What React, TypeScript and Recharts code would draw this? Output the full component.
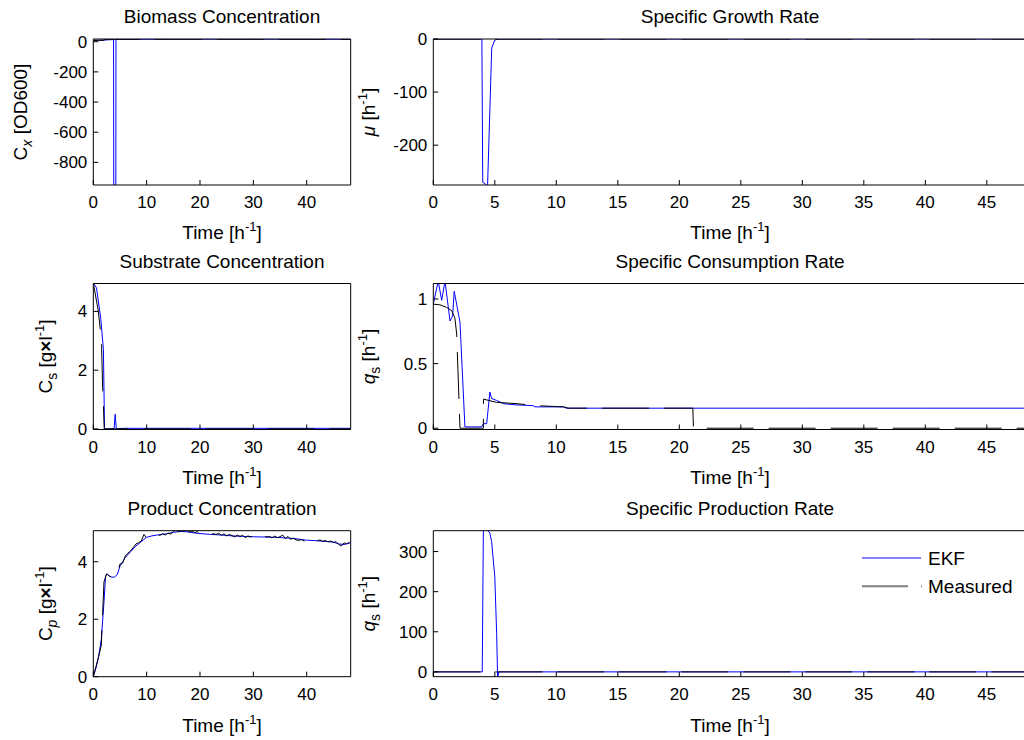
import React from 'react'
import { LineChart, Line, XAxis, YAxis, Legend } from 'recharts'

const FONT = '"Liberation Sans", Arial, Helvetica, sans-serif'
const EKF_COLOR = '#0000ff'
const MEAS_COLOR = '#000000'
const MEAS_DASH = '47 15'

const X_DOMAIN: [number, number] = [0, 48.25]
const X_TICKS_LEFT = [0, 10, 20, 30, 40]
const X_TICKS_RIGHT = [0, 5, 10, 15, 20, 25, 30, 35, 40, 45]

// Biomass concentration
const cxEkfTime = [0, 1, 2, 3, 3.8, 3.85, 4.2, 4.25, 6, 10, 15, 20, 30, 40, 48.25]
const cxEkf = [9, 10, 11, 13, 14, -1500, -1500, 15, 16, 16.5, 17, 17, 17, 16.8, 16.5]
const cxMeasTime = [0, 1, 2, 2.2, 3, 5, 10, 20, 30, 40, 48.25]
const cxMeas = [9, 9, 9.5, 16, 16.5, 17, 17, 17, 17, 16.8, 16.5]

// Specific growth rate
const muEkfTime = [0, 2, 3.95, 4.02, 4.2, 4.4, 4.75, 5.0, 5.3, 10, 20, 30, 40, 48.25]
const muEkf = [0, 0, 0, -270, -272, -285, -17, -2, 0, 0, 0, 0, 0, 0]
const muMeasTime = [0, 10, 20, 30, 40, 48.25]
const muMeas = [0, 0, 0, 0, 0, 0]

// Substrate concentration
const csEkfTime = [0, 0.6, 1.4, 1.9, 2.1, 3.9, 4.1, 4.3, 6, 10, 20, 30, 40, 48.25]
const csEkf = [4.97, 4.8, 3.75, 2.7, 0.0, 0.01, 0.5, 0.01, 0.02, 0.02, 0.02, 0.02, 0.02, 0.02]
const csMeasTime = [0, 0.9, 1.25, 1.56, 1.75, 1.9, 2.05, 5, 10, 20, 30, 40, 48.25]
const csMeas = [4.97, 4.05, 3.5, 2.8, 1.4, 0.8, 0, 0, 0, 0, 0, 0, 0]

// Specific consumption rate
const qsEkfTime = [0, 0.4, 0.68, 0.95, 1.36, 1.57, 1.7, 2.17, 2.57, 3.93, 4.07, 4.34, 4.6, 4.74, 5.15, 5.7, 6.8, 8.1, 8.27, 10.6, 10.8, 15, 20, 30, 40, 48.25]
const qsEkf = [0.96, 1.14, 0.99, 1.14, 0.83, 0.87, 1.06, 0.82, 0.01, 0.01, 0.035, 0.035, 0.28, 0.23, 0.215, 0.19, 0.18, 0.175, 0.165, 0.165, 0.155, 0.155, 0.155, 0.155, 0.155, 0.155]
const qsMeasTime = [0, 0.54, 1.08, 1.5, 1.76, 1.9, 2.17, 3.9, 4.07, 4.08, 5.15, 6.8, 8.3, 10.6, 11, 21.1, 21.15, 30, 40, 48.25]
const qsMeas = [0.96, 0.955, 0.935, 0.91, 0.85, 0.73, 0, 0, 0, 0.225, 0.2, 0.19, 0.175, 0.165, 0.155, 0.155, 0, 0, 0, 0]

// Product concentration
const cpEkfTime = [0, 0.5, 1, 1.5, 2, 2.3, 2.6, 3, 3.5, 4, 4.5, 5, 5.5, 6, 7, 8, 9, 10, 11, 12, 13, 14, 15, 16, 17, 18, 19, 20, 22, 24, 26, 28, 30, 32, 34, 36, 38, 40, 42, 44, 45, 46, 47, 48.25]
const cpEkf = [0, 0.3, 0.7, 1.3, 2.6, 3.5, 3.58, 3.5, 3.46, 3.47, 3.55, 3.85, 4.0, 4.15, 4.35, 4.55, 4.7, 4.85, 4.9, 4.93, 4.95, 4.98, 5.02, 5.05, 5.05, 5.03, 5.0, 4.98, 4.95, 4.93, 4.9, 4.88, 4.87, 4.86, 4.85, 4.83, 4.8, 4.75, 4.73, 4.7, 4.68, 4.62, 4.6, 4.66]
const cpMeasTime = [
  0, 0.5, 1, 1.5, 2, 2.5, 3, 3.5, 4, 4.5, 5, 5.5, 6, 6.5, 7, 7.5, 8, 8.5, 9, 9.5,
  10, 10.5, 11, 11.5, 12, 12.5, 13, 13.5, 14, 14.5, 15, 15.5, 16, 16.5, 17, 17.5, 18, 18.5, 19, 19.5,
  20, 20.5, 21, 21.5, 22, 22.5, 23, 23.5, 24, 24.5, 25, 25.5, 26, 26.5, 27, 27.5, 28, 28.5, 29, 29.5,
  30, 30.5, 31, 31.5, 32, 32.5, 33, 33.5, 34, 34.5, 35, 35.5, 36, 36.5, 37, 37.5, 38, 38.5, 39, 39.5,
  40, 40.5, 41, 41.5, 42, 42.5, 43, 43.5, 44, 44.5, 45, 45.5, 46, 46.5, 47, 47.5, 48,
]
const cpMeas = [
  0.02, 0.35, 0.7, 1.1, 3.3, 3.58, 3.5, 3.47, 3.45, 3.6, 3.92, 3.95, 4.2, 4.3, 4.38, 4.5, 4.62, 4.66, 4.72, 4.95,
  4.82, 4.9, 4.93, 4.88, 4.95, 4.92, 4.98, 4.93, 5.0, 4.96, 5.06, 5.1, 5.04, 5.09, 5.06, 5.11, 5.03, 5.07, 5.01, 5.05,
  4.96, 5.02, 4.97, 5.0, 4.93, 4.98, 4.95, 4.99, 4.92, 4.97, 4.9, 4.95, 4.91, 4.86, 4.93, 4.88, 4.92, 4.84, 4.9, 4.86,
  4.91, 4.85, 4.89, 4.84, 4.9, 4.86, 4.88, 4.83, 4.89, 4.84, 4.87, 4.93, 4.8, 4.88, 4.78, 4.82, 4.76, 4.74, 4.77, 4.72,
  4.68, 4.79, 4.74, 4.78, 4.73, 4.76, 4.71, 4.74, 4.69, 4.72, 4.67, 4.7, 4.6, 4.55, 4.66, 4.62, 4.68,
]

// Specific production rate
const qpEkfTime = [0, 3.98, 4.07, 4.34, 4.6, 4.74, 5.0, 5.15, 5.23, 5.33, 10, 20, 30, 40, 48.25]
const qpEkf = [0, 0, 356, 356, 346, 325, 237, 96, -15, 0, 0, 0, 0, 0, 0]
const qpMeasTime = [0, 10, 20, 30, 40, 48.25]
const qpMeas = [0, 0, 0, 0, 0, 0]

type Pt = { t: number; v: number }
const pts = (t: number[], v: number[]): Pt[] => t.map((x, i) => ({ t: x, v: v[i] }))

const tickStyle = { fill: '#000', fontSize: 17, fontFamily: FONT }
const axisStroke = { stroke: '#000', strokeWidth: 1 }

function TitleLabel({ viewBox, text }: any) {
  const { x, y, width, height } = viewBox
  return (
    <text x={x + width / 2} y={y + height - 16} textAnchor="middle" fontFamily={FONT} fontSize={19} fill="#000">
      {text}
    </text>
  )
}

function TimeLabel({ viewBox, gap }: any) {
  const { x, y, width } = viewBox
  return (
    <text x={x + width / 2} y={y + gap} textAnchor="middle" fontFamily={FONT} fontSize={19} fill="#000">
      Time [h<tspan dy={-8} fontSize={13}>-1</tspan>
      <tspan dy={8}>]</tspan>
    </text>
  )
}

function YTitle({ viewBox, bx, parts }: any) {
  const cy = viewBox.y + viewBox.height / 2
  return (
    <text x={bx} y={cy} transform={`rotate(-90 ${bx} ${cy})`} textAnchor="middle" fontFamily={FONT} fontSize={19} fill="#000">
      {parts}
    </text>
  )
}

const sup = (
  <>
    <tspan dy={-8} fontSize={13}>-1</tspan>
    <tspan dy={8}>]</tspan>
  </>
)

const cxLabel = (
  <>
    C<tspan dy={5} fontSize={14} fontStyle="italic">x</tspan>
    <tspan dy={-5}> [OD600]</tspan>
  </>
)
const muLabel = (
  <>
    <tspan fontStyle="italic">μ</tspan> [h{sup}
  </>
)
const csLabel = (
  <>
    C<tspan dy={5} fontSize={14}>s</tspan>
    <tspan dy={-5}> [g</tspan>
    <tspan fontWeight="bold">×</tspan>l{sup}
  </>
)
const qsLabel = (
  <>
    <tspan fontStyle="italic">q</tspan>
    <tspan dy={5} fontSize={14}>s</tspan>
    <tspan dy={-5}> [h</tspan>
    {sup}
  </>
)
const cpLabel = (
  <>
    C<tspan dy={5} fontSize={14} fontStyle="italic">p</tspan>
    <tspan dy={-5}> [g</tspan>
    <tspan fontWeight="bold">×</tspan>l{sup}
  </>
)

function LegendBox() {
  return (
    <svg width={180} height={60} style={{ display: 'block' }}>
      <line x1={6} x2={65} y1={16} y2={16} stroke={EKF_COLOR} strokeWidth={1} />
      <text x={72} y={23.3} fontFamily={FONT} fontSize={19} fill="#000">EKF</text>
      <line x1={6} x2={66} y1={44.3} y2={44.3} stroke="#808080" strokeWidth={2} strokeDasharray="46 13" />
      <text x={72} y={51} fontFamily={FONT} fontSize={19} fill="#000">Measured</text>
    </svg>
  )
}

interface PanelProps {
  left: number
  top: number
  width: number
  height: number
  yAxisWidth: number
  plotTop: number
  plotRight: number
  plotBottom: number
  xTicks: number[]
  yDomain: [number, number]
  yTicks: number[]
  title: string
  yLabel: React.ReactNode
  yLabelX: number
  xLabelGap: number
  ekf: Pt[]
  meas: Pt[]
  legend?: boolean
}

function Panel(p: PanelProps) {
  return (
    <div style={{ position: 'absolute', left: p.left, top: p.top, width: p.width, height: p.height }}>
      <LineChart
        width={p.width}
        height={p.height}
        margin={{ top: p.plotTop - 1, right: p.width - p.plotRight - 1, bottom: 0, left: 0 }}
      >
        <XAxis
          xAxisId="b"
          dataKey="t"
          type="number"
          domain={X_DOMAIN}
          ticks={p.xTicks}
          interval={0}
          allowDataOverflow
          height={p.height - p.plotBottom}
          tickSize={-5}
          tickMargin={16}
          tick={tickStyle}
          axisLine={axisStroke}
          tickLine={axisStroke}
          label={<TimeLabel gap={p.xLabelGap} />}
        />
        <XAxis
          xAxisId="t"
          orientation="top"
          dataKey="t"
          type="number"
          domain={X_DOMAIN}
          ticks={p.xTicks}
          interval={0}
          allowDataOverflow
          height={1}
          tickSize={-5}
          tick={false}
          axisLine={axisStroke}
          tickLine={axisStroke}
          label={<TitleLabel text={p.title} />}
        />
        <YAxis
          yAxisId="l"
          type="number"
          domain={p.yDomain}
          ticks={p.yTicks}
          interval={0}
          allowDataOverflow
          width={p.yAxisWidth}
          tickSize={-5}
          tickMargin={11}
          tick={tickStyle}
          axisLine={axisStroke}
          tickLine={axisStroke}
          label={<YTitle bx={p.yLabelX} parts={p.yLabel} />}
        />
        <YAxis
          yAxisId="r"
          orientation="right"
          type="number"
          domain={p.yDomain}
          ticks={p.yTicks}
          interval={0}
          allowDataOverflow
          width={1}
          tickSize={-5}
          tick={false}
          axisLine={axisStroke}
          tickLine={axisStroke}
        />
        <Line
          xAxisId="b"
          yAxisId="l"
          data={p.ekf}
          dataKey="v"
          name="EKF"
          type="linear"
          stroke={EKF_COLOR}
          strokeWidth={1}
          dot={false}
          activeDot={false}
          isAnimationActive={false}
        />
        <Line
          xAxisId="b"
          yAxisId="l"
          data={p.meas}
          dataKey="v"
          name="Measured"
          type="linear"
          stroke={MEAS_COLOR}
          strokeWidth={1}
          strokeDasharray={MEAS_DASH}
          dot={false}
          activeDot={false}
          isAnimationActive={false}
        />
        {p.legend && (
          <Legend
            layout="vertical"
            align="center"
            verticalAlign="middle"
            wrapperStyle={{ left: 505.7, top: 51.7, width: 180, height: 60 }}
            content={() => <LegendBox />}
          />
        )}
      </LineChart>
    </div>
  )
}

const LEFT = { left: 0, width: 360, yAxisWidth: 93.3, plotRight: 350.7, xTicks: X_TICKS_LEFT }
const RIGHT = { left: 350, width: 680, yAxisWidth: 83.3, plotRight: 676.8, xTicks: X_TICKS_RIGHT, yLabelX: 25 }
const ROW1 = { top: 0, height: 245, plotTop: 39, plotBottom: 185, xLabelGap: 53.5 }
const ROW2 = { top: 245, height: 245, plotTop: 38.5, plotBottom: 184.5, xLabelGap: 54.5 }
const ROW3 = { top: 490, height: 250, plotTop: 40.7, plotBottom: 186.7, xLabelGap: 55.5 }

export default function App() {
  return (
    <div style={{ position: 'absolute', left: 0, top: 0, width: 1024, height: 740, overflow: 'hidden', background: '#fff' }}>
      <Panel {...LEFT} {...ROW1} yLabelX={26.7} title="Biomass Concentration" yLabel={cxLabel}
        yDomain={[-950, 18]} yTicks={[-800, -600, -400, -200, 0]}
        ekf={pts(cxEkfTime, cxEkf)} meas={pts(cxMeasTime, cxMeas)} />
      <Panel {...RIGHT} {...ROW1} title="Specific Growth Rate" yLabel={muLabel}
        yDomain={[-275, 0]} yTicks={[-200, -100, 0]}
        ekf={pts(muEkfTime, muEkf)} meas={pts(muMeasTime, muMeas)} />
      <Panel {...LEFT} {...ROW2} yLabelX={51.5} title="Substrate Concentration" yLabel={csLabel}
        yDomain={[-0.02, 4.95]} yTicks={[0, 2, 4]}
        ekf={pts(csEkfTime, csEkf)} meas={pts(csMeasTime, csMeas)} />
      <Panel {...RIGHT} {...ROW2} title="Specific Consumption Rate" yLabel={qsLabel}
        yDomain={[-0.01, 1.12]} yTicks={[0, 0.5, 1]}
        ekf={pts(qsEkfTime, qsEkf)} meas={pts(qsMeasTime, qsMeas)} />
      <Panel {...LEFT} {...ROW3} yLabelX={52.5} title="Product Concentration" yLabel={cpLabel}
        yDomain={[0, 5.08]} yTicks={[0, 2, 4]}
        ekf={pts(cpEkfTime, cpEkf)} meas={pts(cpMeasTime, cpMeas)} />
      <Panel {...RIGHT} {...ROW3} title="Specific Production Rate" yLabel={qsLabel}
        yDomain={[-12, 352]} yTicks={[0, 100, 200, 300]}
        ekf={pts(qpEkfTime, qpEkf)} meas={pts(qpMeasTime, qpMeas)} legend />
    </div>
  )
}
